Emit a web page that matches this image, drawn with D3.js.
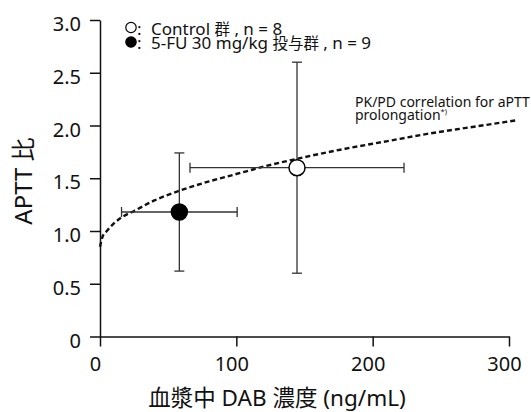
<!DOCTYPE html>
<html><head><meta charset="utf-8">
<script src="https://cdn.jsdelivr.net/npm/d3@7"></script>
<style>
body{margin:0;background:#fff;}
text{font-family:"Noto Sans","Noto Sans CJK JP",sans-serif;fill:#111;}
</style></head>
<body><svg id="c" width="531" height="412"></svg>
<script>
// Data
const xTicks = [0, 100, 200, 300];
const yTicks = [0, 0.5, 1.0, 1.5, 2.0, 2.5, 3.0];
const yTickLabels = ["0", "0.5", "1.0", "1.5", "2.0", "2.5", "3.0"];
const groups = ["Control 群 , n = 8", "5-FU 30 mg/kg 投与群 , n = 9"];
const groupFilled = [false, true];
const meanX = [144.5, 58.2];
const sdX = [78.5, 42.4];
const meanY = [1.60, 1.18];
const sdY = [1.00, 0.56];
const curveX = [0, 2, 5, 10, 16, 25, 40, 58, 80, 100, 120, 150, 180, 210, 240, 270, 306];
const curveY = [0.85, 0.95, 1.00, 1.07, 1.13, 1.19, 1.29, 1.38, 1.47, 1.54, 1.61, 1.70, 1.78, 1.85, 1.92, 1.98, 2.05];

const svg = d3.select("#c");
const x = d3.scaleLinear().domain([0, 300]).range([100, 509]);
const y = d3.scaleLinear().domain([0, 3]).range([336.5, 20]);

// text with CJK runs in CJK font
function rich(sel, str, latin, cjk) {
  str.split(/([\u3000-\u9fff\uff00-\uffef]+)/).forEach(part => {
    if (!part) return;
    const isCjk = /[\u3000-\u9fff\uff00-\uffef]/.test(part);
    sel.append("tspan").attr("font-family", isCjk ? "Noto Sans CJK JP" : "Noto Sans")
      .attr("font-size", isCjk ? cjk : latin).text(part);
  });
  return sel;
}

// axes
const xAxis = d3.axisBottom(x).tickValues(xTicks).tickSize(10).tickSizeOuter(0);
const gx = svg.append("g").attr("transform", "translate(0,336.5)").call(xAxis);
gx.select(".domain").attr("stroke", "#111").attr("stroke-width", 1.5);
gx.selectAll(".tick line").attr("stroke", "#111").attr("stroke-width", 1.5);
gx.selectAll(".tick text").attr("font-size", 20).attr("font-family", "Noto Sans").attr("fill", "#111")
  .attr("y", 34).attr("dy", 0).attr("dx", -5);

const yAxis = d3.axisLeft(y).tickValues(yTicks).tickFormat((d, i) => yTickLabels[i]).tickSize(10).tickSizeOuter(0);
const gy = svg.append("g").attr("transform", "translate(100,0)").call(yAxis);
gy.select(".domain").attr("stroke", "#111").attr("stroke-width", 1.5);
gy.selectAll(".tick line").attr("stroke", "#111").attr("stroke-width", 1.5);
gy.selectAll(".tick text").attr("font-size", 20).attr("font-family", "Noto Sans").attr("fill", "#111")
  .attr("x", -19).attr("dy", 10.5);

// axis titles
rich(svg.append("text").attr("x", 277).attr("y", 405.5).attr("text-anchor", "middle"),
  "血漿中 DAB 濃度 (ng/mL)", 22.5, 22.5);
rich(svg.append("text").attr("transform", "translate(32,181) rotate(-90)").attr("text-anchor", "middle"),
  "APTT 比", 24, 24);

// curve
const line = d3.line().x((d, i) => x(curveX[i])).y((d, i) => y(curveY[i])).curve(d3.curveMonotoneX);
svg.append("path").datum(curveX).attr("d", line).attr("fill", "none")
  .attr("stroke", "#111").attr("stroke-width", 2.4).attr("stroke-dasharray", "5,3");

// error bars & points
const eb = svg.append("g").attr("stroke", "#333").attr("stroke-width", 1.3);
groups.forEach((g, i) => {
  const cx = x(meanX[i]), cy = y(meanY[i]);
  const x0 = x(meanX[i] - sdX[i]), x1 = x(meanX[i] + sdX[i]);
  const y0 = y(meanY[i] - sdY[i]), y1 = y(meanY[i] + sdY[i]);
  eb.append("line").attr("x1", x0).attr("x2", x1).attr("y1", cy).attr("y2", cy);
  eb.append("line").attr("x1", x0).attr("x2", x0).attr("y1", cy - 5).attr("y2", cy + 5);
  eb.append("line").attr("x1", x1).attr("x2", x1).attr("y1", cy - 5).attr("y2", cy + 5);
  eb.append("line").attr("x1", cx).attr("x2", cx).attr("y1", y0).attr("y2", y1);
  eb.append("line").attr("x1", cx - 5).attr("x2", cx + 5).attr("y1", y0).attr("y2", y0);
  eb.append("line").attr("x1", cx - 5).attr("x2", cx + 5).attr("y1", y1).attr("y2", y1);
});
groups.forEach((g, i) => {
  svg.append("circle").attr("cx", x(meanX[i])).attr("cy", y(meanY[i])).attr("r", 8)
    .attr("fill", groupFilled[i] ? "#000" : "#fff").attr("stroke", "#000").attr("stroke-width", 1.5);
});

// legend
groups.forEach((g, i) => {
  const by = 34.5 + i * 14.5;
  svg.append("circle").attr("cx", 131).attr("cy", by - 7).attr("r", 5.2)
    .attr("fill", groupFilled[i] ? "#000" : "#fff").attr("stroke", "#000").attr("stroke-width", 1.2);
  const t = svg.append("text").attr("x", 137).attr("y", by).attr("font-size", 17);
  t.append("tspan").text(":");
  const rest = t.append("tspan").attr("x", 151);
  rich(rest, g, 17, 15.5);
});

// annotation
const ann = svg.append("text").attr("x", 355).attr("y", 106.5).attr("font-size", 14);
ann.append("tspan").attr("x", 355).text("PK/PD correlation for aPTT");
ann.append("tspan").attr("x", 355).attr("y", 120).text("prolongation");
ann.append("tspan").attr("font-size", 7.5).attr("dy", -6.5).text("*)");
</script></body></html>
